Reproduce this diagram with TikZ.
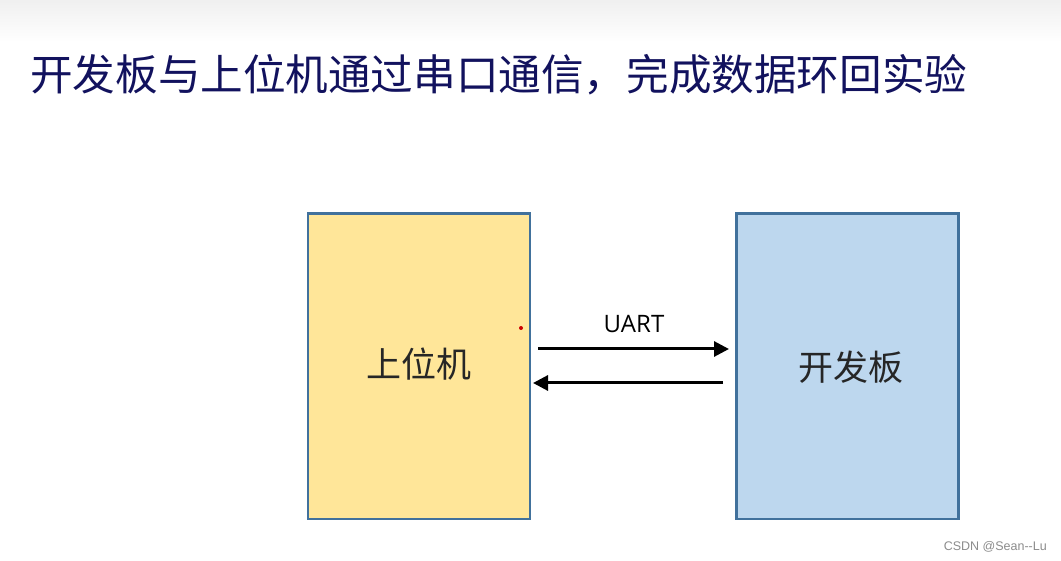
\documentclass[tikz,border=0pt]{standalone}
\usepackage{fontspec}
\setmainfont{Liberation Sans}
\newfontfamily\cjk{Noto Sans CJK SC}
\newfontfamily\uartfont{Open Sans}
\usetikzlibrary{arrows.meta,shadings}
\definecolor{titleblue}{HTML}{12125E}
\definecolor{boxyellow}{HTML}{FFE699}
\definecolor{boxblue}{HTML}{BDD7EE}
\definecolor{boxedge}{HTML}{41719C}
\definecolor{labelgray}{HTML}{262626}
\tikzset{
  box/.style={draw=boxedge, line width=2.5pt, inner sep=0pt, minimum width=222pt, minimum height=305pt, anchor=north west},
  boxlabel/.style={font=\cjk\fontsize{35}{35}\selectfont, text=labelgray},
  link/.style={line width=3pt, -{Triangle[length=15pt,width=15pt]}},
}
\begin{document}
\begin{tikzpicture}[x=1pt,y=-1pt]
\useasboundingbox (0,0) rectangle (1061,561);
\fill[white] (0,0) rectangle (1061,561);
\shade[top color=black!6, bottom color=white] (0,0) rectangle (1061,42);
\node[anchor=west, font=\cjk\fontsize{42.6}{42.6}\selectfont, text=titleblue, inner sep=0pt] (title) at (30,75) {开发板与上位机通过串口通信，完成数据环回实验};
\node[box, fill=boxyellow] (host) at (306.5,212.5) {};
\node[box, fill=boxblue] (board) at (735,212.5) {};
\node[boxlabel] (hostlabel) at (419,364) {上位机};
\node[boxlabel] (boardlabel) at (851,367) {开发板};
\coordinate (a1s) at (538,349);
\coordinate (a1e) at (729,349);
\coordinate (a2s) at (723,383);
\coordinate (a2e) at (533,383);
\draw[link] (a1s) -- (a1e);
\draw[link] (a2s) -- (a2e);
\node[font=\uartfont\fontsize{24}{24}\selectfont, text=black] (uart) at (634,324) {UART};
\fill[red!80!black] (521,328) circle (2pt);
\node[anchor=east, font=\fontsize{12.5}{12.5}\selectfont, text=black!45, inner sep=0pt] (wm) at (1047,547) {CSDN @Sean{-}{-}Lu};
\end{tikzpicture}
\end{document}
